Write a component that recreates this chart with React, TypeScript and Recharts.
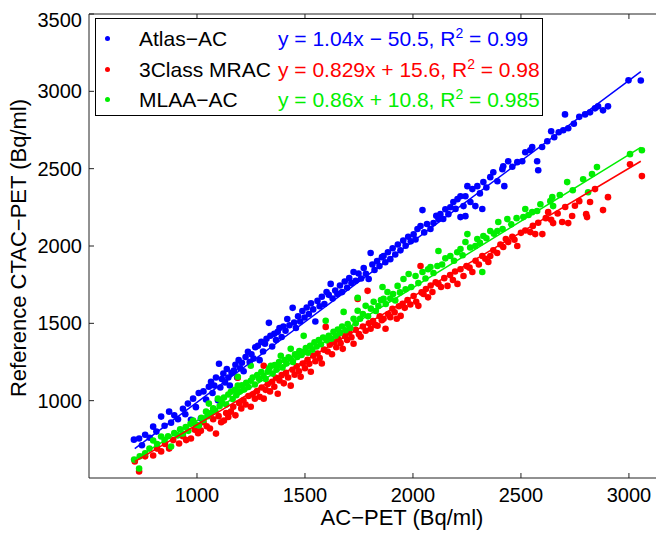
import React from 'react';
import { ScatterChart, Scatter, XAxis, YAxis, Legend } from 'recharts';

// points, [AC-PET, CTAC-PET]
const atlasPoints: [number, number][] = [
  [708, 748], [732, 755], [745, 712], [760, 780], [781, 760], [797, 832], [812, 800], [834, 897], [850, 838], [871, 929],
  [880, 858], [895, 905], [912, 880], [935, 948], [946, 912], [958, 981], [972, 877], [982, 1013], [995, 958], [1008, 1050],
  [1018, 884], [1030, 1060], [1042, 1008], [1055, 1090], [1065, 1122], [1072, 1050], [1080, 1098], [1088, 1150], [1097, 1002], [1102, 1239],
  [1108, 1085], [1115, 1140], [1122, 1175], [1130, 1118], [1138, 1205], [1145, 1150], [1152, 1098], [1160, 1180], [1171, 1194], [1178, 1232],
  [1186, 1150], [1193, 1262], [1200, 1210], [1208, 1245], [1216, 1190], [1225, 1282], [1236, 1316], [1244, 1250], [1252, 1300], [1262, 1272],
  [1270, 1345], [1282, 1355], [1290, 1262], [1298, 1380], [1306, 1318], [1315, 1368], [1322, 1400], [1333, 1503], [1340, 1420], [1348, 1350],
  [1358, 1432], [1366, 1392], [1374, 1445], [1382, 1470], [1392, 1412], [1400, 1480], [1410, 1452], [1418, 1528], [1428, 1488], [1443, 1600],
  [1450, 1505], [1458, 1470], [1468, 1545], [1478, 1512], [1488, 1580], [1498, 1538], [1508, 1602], [1518, 1560], [1528, 1630], [1538, 1590],
  [1548, 1512], [1558, 1645], [1568, 1610], [1578, 1672], [1590, 1625], [1600, 1702], [1610, 1684], [1619, 1755], [1628, 1660], [1640, 1712],
  [1650, 1690], [1662, 1745], [1672, 1702], [1684, 1770], [1695, 1730], [1705, 1792], [1715, 1760], [1725, 1832], [1735, 1775], [1748, 1822],
  [1760, 1790], [1772, 1858], [1782, 1820], [1795, 1787], [1804, 1955], [1812, 1880], [1822, 1845], [1834, 1902], [1845, 1870], [1856, 1928],
  [1864, 1935], [1872, 1895], [1884, 1960], [1895, 1915], [1906, 1985], [1918, 1945], [1930, 2010], [1942, 1972], [1955, 2035], [1966, 2002],
  [1978, 2060], [1990, 2030], [2003, 2075], [2012, 2042], [2021, 2110], [2035, 2129], [2044, 2232], [2052, 2088], [2065, 2142], [2081, 2110],
  [2095, 2148], [2108, 2196], [2118, 2174], [2127, 2206], [2140, 2175], [2150, 2238], [2164, 2206], [2173, 2251], [2187, 2284], [2197, 2240],
  [2206, 2303], [2220, 2322], [2220, 2187], [2234, 2258], [2243, 2322], [2243, 2193], [2252, 2387], [2266, 2284], [2275, 2368], [2289, 2258],
  [2298, 2387], [2310, 2340], [2321, 2239], [2326, 2413], [2340, 2378], [2358, 2445], [2372, 2477], [2391, 2419], [2414, 2497], [2418, 2516],
  [2423, 2387], [2441, 2548], [2460, 2512], [2483, 2542], [2506, 2548], [2520, 2606], [2543, 2619], [2552, 2639], [2575, 2548], [2580, 2490],
  [2598, 2640], [2622, 2677], [2640, 2742], [2654, 2703], [2675, 2735], [2696, 2748], [2704, 2851], [2719, 2761], [2745, 2790], [2770, 2835],
  [2797, 2851], [2820, 2864], [2843, 2890], [2857, 2903], [2880, 2877], [2903, 2903], [2998, 3071], [3055, 3070],
];

const mracPoints: [number, number][] = [
  [712, 607], [732, 542], [760, 640], [797, 645], [815, 690], [834, 672], [852, 720], [871, 690], [890, 745], [917, 723],
  [935, 770], [950, 745], [972, 755], [990, 812], [1005, 790], [1018, 806], [1030, 860], [1045, 835], [1060, 820], [1075, 880],
  [1088, 787], [1100, 900], [1112, 860], [1125, 871], [1135, 920], [1145, 895], [1157, 929], [1168, 960], [1178, 905], [1189, 1148],
  [1195, 985], [1205, 950], [1215, 1002], [1225, 975], [1238, 1030], [1249, 961], [1258, 1040], [1268, 1012], [1278, 1062], [1290, 1025],
  [1300, 1085], [1309, 1013], [1309, 1226], [1318, 1070], [1328, 1108], [1338, 1060], [1348, 1122], [1358, 1090], [1366, 1148], [1374, 1045],
  [1382, 1130], [1392, 1165], [1402, 1112], [1412, 1180], [1422, 1150], [1434, 1097], [1442, 1200], [1452, 1168], [1462, 1222], [1472, 1190],
  [1480, 1155], [1490, 1240], [1500, 1210], [1512, 1265], [1520, 1238], [1527, 1187], [1538, 1290], [1548, 1255], [1558, 1305], [1568, 1275],
  [1578, 1240], [1588, 1330], [1596, 1477], [1605, 1318], [1615, 1362], [1625, 1300], [1635, 1378], [1645, 1345], [1655, 1398], [1665, 1372],
  [1675, 1335], [1685, 1418], [1695, 1392], [1705, 1442], [1715, 1410], [1725, 1368], [1735, 1458], [1744, 1658], [1750, 1430], [1758, 1413],
  [1768, 1480], [1781, 1452], [1790, 1710], [1796, 1500], [1804, 1465], [1815, 1515], [1825, 1490], [1836, 1484], [1846, 1545], [1856, 1520],
  [1864, 1529], [1873, 1465], [1885, 1560], [1895, 1540], [1905, 1594], [1915, 1572], [1925, 1530], [1935, 1610], [1943, 1548], [1952, 1626],
  [1962, 1600], [1975, 1650], [1988, 1622], [2003, 1677], [2015, 1640], [2025, 1613], [2035, 1871], [2040, 1700], [2049, 1690], [2060, 1722],
  [2070, 1668], [2082, 1745], [2090, 1703], [2105, 1765], [2118, 1755], [2130, 1735], [2145, 1792], [2160, 1742], [2172, 1812], [2185, 1780],
  [2195, 1835], [2206, 1755], [2220, 1850], [2234, 1806], [2248, 1870], [2262, 1860], [2275, 1832], [2290, 1905], [2305, 1880], [2321, 1935],
  [2335, 1918], [2349, 1897], [2358, 1935], [2372, 1972], [2390, 1955], [2405, 2010], [2418, 1994], [2430, 2045], [2441, 2026], [2460, 2060],
  [2470, 2040], [2483, 2000], [2500, 2085], [2520, 2100], [2543, 2090], [2555, 2130], [2566, 2077], [2580, 2150], [2599, 2077], [2615, 2180],
  [2626, 2219], [2640, 2170], [2649, 2148], [2670, 2210], [2691, 2155], [2705, 2252], [2719, 2148], [2737, 2194], [2750, 2260], [2770, 2290],
  [2802, 2206], [2806, 2187], [2820, 2284], [2843, 2368], [2880, 2232], [2903, 2316], [3005, 2529], [3060, 2452],
];

const mlaaPoints: [number, number][] = [
  [709, 619], [732, 561], [735, 640], [760, 660], [780, 690], [797, 742], [815, 720], [834, 768], [850, 745], [866, 770],
  [880, 703], [895, 790], [910, 775], [922, 815], [935, 787], [948, 830], [960, 805], [970, 850], [982, 871], [995, 845],
  [1009, 839], [1020, 890], [1030, 875], [1042, 929], [1050, 900], [1055, 981], [1065, 920], [1075, 950], [1085, 935], [1097, 1013],
  [1105, 965], [1115, 990], [1125, 1020], [1135, 975], [1145, 1040], [1157, 1058], [1165, 1010], [1175, 1070], [1182, 1035], [1189, 1097],
  [1189, 1155], [1198, 1060], [1208, 1100], [1218, 1072], [1228, 1115], [1238, 1088], [1249, 1129], [1249, 1226], [1258, 1150], [1268, 1105],
  [1278, 1165], [1288, 1140], [1298, 1185], [1308, 1160], [1318, 1140], [1328, 1187], [1335, 1210], [1342, 1226], [1350, 1175], [1360, 1230],
  [1368, 1200], [1374, 1226], [1380, 1250], [1388, 1290], [1396, 1215], [1405, 1262], [1414, 1240], [1424, 1280], [1434, 1271], [1434, 1335],
  [1444, 1250], [1454, 1300], [1464, 1282], [1474, 1320], [1484, 1295], [1494, 1316], [1494, 1419], [1504, 1340], [1514, 1310], [1524, 1355],
  [1534, 1330], [1544, 1378], [1554, 1350], [1564, 1392], [1574, 1365], [1584, 1408], [1596, 1516], [1600, 1390], [1610, 1420], [1622, 1400],
  [1632, 1445], [1642, 1420], [1652, 1460], [1662, 1438], [1672, 1480], [1679, 1574], [1688, 1455], [1698, 1495], [1710, 1470], [1725, 1529],
  [1735, 1500], [1744, 1581], [1744, 1665], [1755, 1530], [1768, 1560], [1781, 1613], [1792, 1545], [1805, 1595], [1818, 1639], [1828, 1580],
  [1840, 1612], [1852, 1650], [1859, 1735], [1864, 1658], [1874, 1625], [1882, 1703], [1895, 1660], [1908, 1690], [1918, 1648], [1929, 1742],
  [1940, 1700], [1956, 1787], [1966, 1720], [1980, 1819], [1992, 1735], [2012, 1806], [2025, 1760], [2044, 1832], [2058, 1790], [2070, 1850],
  [2081, 1864], [2095, 1825], [2113, 1871], [2118, 1968], [2135, 1880], [2150, 1920], [2173, 1935], [2190, 1905], [2205, 1960], [2220, 1981],
  [2230, 1940], [2243, 2026], [2252, 2077], [2265, 1990], [2289, 2000], [2298, 2045], [2310, 2020], [2321, 1832], [2326, 2065], [2340, 2050],
  [2358, 2097], [2375, 2080], [2391, 2097], [2395, 2155], [2415, 2110], [2437, 2174], [2455, 2140], [2480, 2180], [2511, 2187], [2520, 2239],
  [2535, 2200], [2552, 2219], [2575, 2226], [2590, 2270], [2636, 2290], [2645, 2316], [2649, 2258], [2680, 2330], [2714, 2413], [2740, 2360],
  [2788, 2432], [2811, 2348], [2829, 2465], [2852, 2510], [3005, 2594], [3060, 2619],
];

// fit line end points
const atlasFit: [number, number][] = [[712, 690], [3055, 3127]];
const mracFit: [number, number][] = [[712, 606], [3055, 2548]];
const mlaaFit: [number, number][] = [[712, 623], [3055, 2638]];

const seriesNames = ['Atlas\u2212AC', '3Class MRAC', 'MLAA\u2212AC'];
const fitText = ['y = 1.04x \u2212 50.5, R', 'y = 0.829x + 15.6, R', 'y = 0.86x + 10.8, R'];
const r2Text = [' = 0.99', ' = 0.98', ' = 0.985'];
const colors = ['#0000ff', '#ff0000', '#00ee00'];

const xTicks = [1000, 1500, 2000, 2500, 3000];
const yTicks = [1000, 1500, 2000, 2500, 3000, 3500];

const FONT = '"Liberation Sans", Arial, sans-serif';
const AXIS = '#222';

const toXY = (pts: [number, number][]) => pts.map(([x, y]) => ({ x, y }));

const dot = (color: string) => (p: any) => <circle cx={p.cx} cy={p.cy} r={3.3} fill={color} />;
const noShape = () => <g />;
const noTick = () => <g />;

const LegendBox = () => (
  <div
    style={{
      position: 'relative', width: 448, height: 98, boxSizing: 'border-box',
      border: '1px solid #000', background: '#fff', fontFamily: FONT, fontSize: 21, color: '#000',
    }}
  >
    {seriesNames.map((name, i) => {
      const top = [20, 51, 81][i] - 14;
      return (
        <React.Fragment key={name}>
          <div style={{ position: 'absolute', left: 9, top: top + 11, width: 5, height: 5, borderRadius: 3, background: colors[i] }} />
          <div style={{ position: 'absolute', left: 43, top, lineHeight: '28px', whiteSpace: 'nowrap' }}>{name}</div>
          <div style={{ position: 'absolute', left: 182, top, lineHeight: '28px', whiteSpace: 'nowrap', color: colors[i] }}>
            {fitText[i]}
            <sup style={{ fontSize: 14, lineHeight: 0 }}>2</sup>
            {r2Text[i]}
          </div>
        </React.Fragment>
      );
    })}
  </div>
);

const YTitle = (props: any) => {
  const vb = props.viewBox;
  const x = vb.x - 11;
  const y = vb.y + vb.height / 2 + 2;
  return (
    <text x={x} y={y} transform={`rotate(-90 ${x} ${y})`} textAnchor="middle" dominantBaseline="central"
      fontFamily={FONT} fontSize={22} fill="#000">
      Reference CTAC{'\u2212'}PET (Bq/ml)
    </text>
  );
};

const XTitle = (props: any) => {
  const vb = props.viewBox;
  return (
    <text x={vb.x + vb.width / 2 + 25} y={vb.y + 47} textAnchor="middle" fontFamily={FONT} fontSize={22} fill="#000">
      AC{'\u2212'}PET (Bq/ml)
    </text>
  );
};

export default function App() {
  const tickStyle = { fill: '#000', fontSize: 20, fontFamily: FONT };
  return (
    <div style={{ width: 656, height: 525, overflow: 'hidden' }}>
      <style>{'html,body{overflow:hidden}'}</style>
      <ScatterChart width={664} height={525} margin={{ top: 5, right: 6, bottom: 25, left: 21 }}>
        <XAxis xAxisId="b" type="number" dataKey="x" domain={[500, 3167]} ticks={xTicks} allowDataOverflow
          height={30} tickSize={-5} tickMargin={15} tick={tickStyle}
          axisLine={{ stroke: AXIS }} tickLine={{ stroke: AXIS }} label={{ content: XTitle }} />
        <XAxis xAxisId="t" orientation="top" type="number" dataKey="x" domain={[500, 3167]} ticks={xTicks} allowDataOverflow
          height={1} tickSize={-5} tick={noTick} axisLine={{ stroke: AXIS }} tickLine={{ stroke: AXIS }} />
        <YAxis yAxisId="l" type="number" dataKey="y" domain={[500, 3500]} ticks={yTicks} allowDataOverflow
          width={60} tickSize={-5} tickMargin={12} tick={tickStyle}
          axisLine={{ stroke: AXIS }} tickLine={{ stroke: AXIS }} label={{ content: YTitle }} />
        <YAxis yAxisId="r" orientation="right" type="number" dataKey="y" domain={[500, 3500]} ticks={yTicks} allowDataOverflow
          width={1} tickSize={-5} tick={noTick} axisLine={{ stroke: AXIS }} tickLine={{ stroke: AXIS }} />
        <Legend layout="horizontal" verticalAlign="middle" align="center" content={() => <LegendBox />}
          wrapperStyle={{ left: 87, top: 10, width: 448, height: 98 }} />
        <Scatter xAxisId="b" yAxisId="l" data={toXY(atlasPoints)} shape={dot(colors[0])} isAnimationActive={false} />
        <Scatter xAxisId="b" yAxisId="l" data={toXY(mracPoints)} shape={dot(colors[1])} isAnimationActive={false} />
        <Scatter xAxisId="b" yAxisId="l" data={toXY(mlaaPoints)} shape={dot(colors[2])} isAnimationActive={false} />
        <Scatter xAxisId="b" yAxisId="l" data={toXY(atlasFit)} line={{ stroke: colors[0], strokeWidth: 1.5 }} shape={noShape} isAnimationActive={false} />
        <Scatter xAxisId="b" yAxisId="l" data={toXY(mracFit)} line={{ stroke: colors[1], strokeWidth: 1.5 }} shape={noShape} isAnimationActive={false} />
        <Scatter xAxisId="b" yAxisId="l" data={toXY(mlaaFit)} line={{ stroke: colors[2], strokeWidth: 1.5 }} shape={noShape} isAnimationActive={false} />
      </ScatterChart>
    </div>
  );
}
